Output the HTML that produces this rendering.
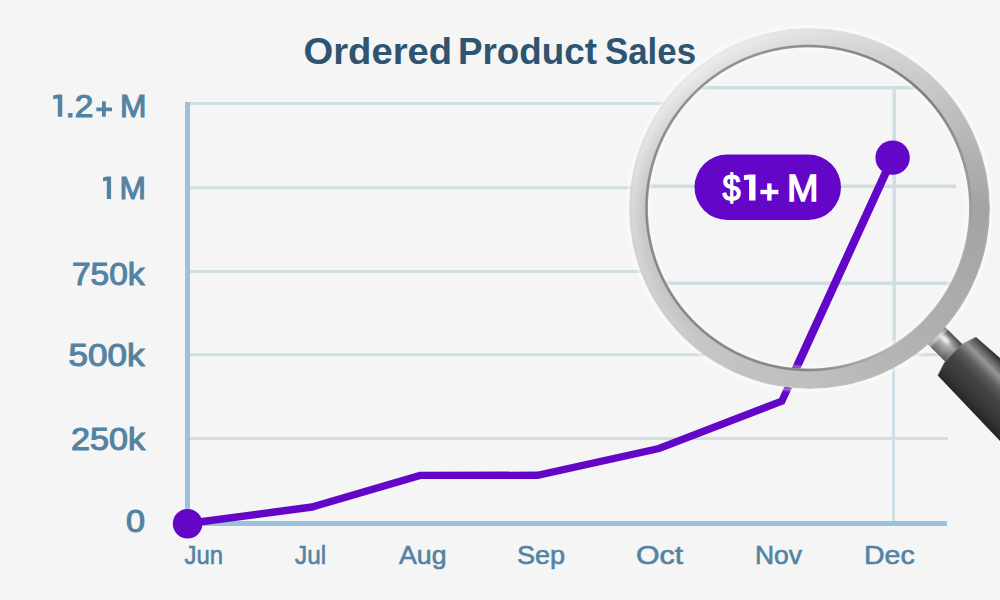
<!DOCTYPE html>
<html><head><meta charset="utf-8">
<style>
html,body{margin:0;padding:0;background:#f5f5f5;width:1000px;height:600px;overflow:hidden;position:relative}
svg{display:block;position:absolute;left:0;top:0}
text{font-family:"Liberation Sans",sans-serif}
.ring{position:absolute;left:628.8px;top:28px;width:361.4px;height:361.4px;border-radius:50%;
background:conic-gradient(from 0deg,#dcdcdc 0deg,#c8c8c8 45deg,#a3a3a3 90deg,#afafaf 135deg,#bfbfbf 180deg,#c5c5c5 225deg,#c8c8c8 270deg,#d8d8d8 300deg,#e0e0e0 320deg,#e0e0e0 340deg,#dcdcdc 360deg);
-webkit-mask:radial-gradient(circle at 179.5px 180px,transparent 160.1px,#000 161.1px);mask:radial-gradient(circle at 179.5px 180px,transparent 160.1px,#000 161.1px)}
.rline{position:absolute;left:628.8px;top:28px;width:361.4px;height:361.4px;border-radius:50%;
background:conic-gradient(from 0deg,rgba(70,70,70,.55) 0deg,rgba(70,70,70,.6) 45deg,rgba(70,70,70,.2) 80deg,rgba(70,70,70,0) 100deg,rgba(70,70,70,0) 150deg,rgba(70,70,70,.5) 180deg,rgba(70,70,70,.55) 270deg,rgba(70,70,70,.55) 360deg);
-webkit-mask:radial-gradient(circle at 179.5px 180px,transparent 160.1px,#000 161.1px,#000 162.6px,transparent 163.8px);mask:radial-gradient(circle at 179.5px 180px,transparent 160.1px,#000 161.1px,#000 162.6px,transparent 163.8px)}
.rhi{position:absolute;left:628.8px;top:28px;width:361.4px;height:361.4px;border-radius:50%;
background:radial-gradient(circle at 180.7px 180.7px,rgba(255,255,255,0) 166px,rgba(255,255,255,.4) 177px,rgba(255,255,255,.15) 180.7px);
-webkit-mask:conic-gradient(from 0deg,rgba(0,0,0,.5) 0deg,rgba(0,0,0,0) 50deg,rgba(0,0,0,0) 200deg,rgba(0,0,0,.9) 280deg,#000 320deg,rgba(0,0,0,.5) 360deg);mask:conic-gradient(from 0deg,rgba(0,0,0,.5) 0deg,rgba(0,0,0,0) 50deg,rgba(0,0,0,0) 200deg,rgba(0,0,0,.9) 280deg,#000 320deg,rgba(0,0,0,.5) 360deg)}
</style></head>
<body>
<svg width="1000" height="600" viewBox="0 0 1000 600">
<defs>
  <clipPath id="lens"><circle cx="808.3" cy="208" r="161.5"/></clipPath>
  <linearGradient id="neckG" gradientUnits="userSpaceOnUse" x1="0" y1="-12.25" x2="0" y2="12.25">
    <stop offset="0" stop-color="#4a4a4a"/>
    <stop offset="0.18" stop-color="#858585"/>
    <stop offset="0.4" stop-color="#bdbdbd"/>
    <stop offset="0.62" stop-color="#a2a2a2"/>
    <stop offset="1" stop-color="#686868"/>
  </linearGradient>
  <linearGradient id="neckU" gradientUnits="userSpaceOnUse" x1="180" y1="0" x2="209" y2="0">
    <stop offset="0" stop-color="#000" stop-opacity="0"/>
    <stop offset="0.5" stop-color="#000" stop-opacity="0"/>
    <stop offset="1" stop-color="#000" stop-opacity="0.3"/>
  </linearGradient>
  <linearGradient id="handG" gradientUnits="userSpaceOnUse" x1="0" y1="-28" x2="0" y2="28">
    <stop offset="0" stop-color="#303030"/>
    <stop offset="0.07" stop-color="#555555"/>
    <stop offset="0.22" stop-color="#969696"/>
    <stop offset="0.38" stop-color="#5e5e5e"/>
    <stop offset="0.55" stop-color="#444444"/>
    <stop offset="0.8" stop-color="#383838"/>
    <stop offset="1" stop-color="#262626"/>
  </linearGradient>
  <filter id="blur2" x="-50%" y="-50%" width="200%" height="200%"><feGaussianBlur stdDeviation="1.6"/></filter>
</defs>
<rect width="1000" height="600" fill="#f5f5f5"/>
<g fill="#2e5470"><text x="303.5" y="63.7" font-size="37.5" font-weight="bold" fill="#2e5470" textLength="148.6" lengthAdjust="spacingAndGlyphs">Ordered</text><text x="458.0" y="63.7" font-size="37.5" font-weight="bold" fill="#2e5470" textLength="139.03" lengthAdjust="spacingAndGlyphs">Product</text><text x="605.0" y="63.7" font-size="37.5" font-weight="bold" fill="#2e5470" textLength="91.05" lengthAdjust="spacingAndGlyphs">Sales</text></g>
<g stroke="#cfdee2" stroke-width="3" fill="none">
<line x1="190" y1="103.5" x2="948" y2="103.5"/><line x1="190" y1="187.7" x2="948" y2="187.7"/><line x1="190" y1="271.6" x2="948" y2="271.6"/><line x1="190" y1="354.8" x2="948" y2="354.8"/><line x1="190" y1="438.4" x2="948" y2="438.4"/>
  <line x1="893.5" y1="103.5" x2="893.5" y2="521"/>
</g>
<rect x="185" y="102" width="5" height="424" fill="#9bc1dc"/>
<rect x="185" y="521" width="762" height="5" fill="#9bc1dc"/>
<g stroke="#5483a2" stroke-width="1.1"><text x="65.5" y="116.5" font-size="30.5" font-weight="normal" fill="#5483a2" textLength="27.86" lengthAdjust="spacingAndGlyphs">.2</text><text x="120.0" y="116.5" font-size="30.5" font-weight="normal" fill="#5483a2" textLength="26.47" lengthAdjust="spacingAndGlyphs">M</text><text x="119.5" y="198.5" font-size="31.0" font-weight="normal" fill="#5483a2" textLength="26.45" lengthAdjust="spacingAndGlyphs">M</text><text x="72.0" y="284.5" font-size="31.5" font-weight="normal" fill="#5483a2" textLength="72.5" lengthAdjust="spacingAndGlyphs">750k</text><text x="68.5" y="366.0" font-size="31.5" font-weight="normal" fill="#5483a2" textLength="76.01" lengthAdjust="spacingAndGlyphs">500k</text><text x="71.0" y="450.1" font-size="31.5" font-weight="normal" fill="#5483a2" textLength="74.01" lengthAdjust="spacingAndGlyphs">250k</text><text x="126.0" y="532.0" font-size="31.0" font-weight="normal" fill="#5483a2" textLength="19.06" lengthAdjust="spacingAndGlyphs">0</text></g>
<g stroke="#5483a2" stroke-width="0.6"><text x="184.5" y="564.3" font-size="26.2" font-weight="normal" fill="#5483a2" textLength="38.56" lengthAdjust="spacingAndGlyphs">Jun</text><text x="295.0" y="564.3" font-size="26.2" font-weight="normal" fill="#5483a2" textLength="31.09" lengthAdjust="spacingAndGlyphs">Jul</text><text x="399.0" y="564.3" font-size="26.2" font-weight="normal" fill="#5483a2" textLength="47.54" lengthAdjust="spacingAndGlyphs">Aug</text><text x="517.0" y="564.3" font-size="26.2" font-weight="normal" fill="#5483a2" textLength="48.09" lengthAdjust="spacingAndGlyphs">Sep</text><text x="636.0" y="564.3" font-size="26.2" font-weight="normal" fill="#5483a2" textLength="47.06" lengthAdjust="spacingAndGlyphs">Oct</text><text x="755.0" y="564.3" font-size="26.2" font-weight="normal" fill="#5483a2" textLength="47.04" lengthAdjust="spacingAndGlyphs">Nov</text><text x="864.0" y="564.3" font-size="26.2" font-weight="normal" fill="#5483a2" textLength="50.7" lengthAdjust="spacingAndGlyphs">Dec</text></g>
<g fill="#5483a2">
<path d="M103,177.6 L106.8,176.4 L111.1,176.4 L111.1,199 L106.8,199 L106.8,180.6 L103,181.6 Z"/>
<path d="M53.2,95.6 L57.8,94.6 L62.3,94.6 L62.3,116.7 L57.8,116.7 L57.8,98.6 L53.2,99.3 Z"/>
<rect x="96.3" y="107.5" width="15.7" height="3.7"/><rect x="102" y="101.3" width="3.8" height="15.4"/>
</g>
<polyline points="187.6,523.5 312,507 420,475.4 537.5,475.3 659,448.5 781.8,401.2 891,163" fill="none" stroke="#6306c8" stroke-width="7.4" stroke-linejoin="miter"/>
<circle cx="187.6" cy="523.7" r="14.8" fill="#6306c8"/>
<g clip-path="url(#lens)">
  <rect x="600" y="0" width="400" height="420" fill="#f5f5f5"/>
  <g stroke="#cfdee2" stroke-width="3.4" fill="none">
<line x1="600" y1="87.8" x2="956" y2="87.8"/><line x1="600" y1="186.3" x2="956" y2="186.3"/><line x1="600" y1="283.3" x2="956" y2="283.3"/><line x1="600" y1="380.5" x2="956" y2="380.5"/>
    <line x1="894.2" y1="87.8" x2="894.2" y2="420"/>
  </g>
  <line x1="767" y1="432" x2="892.6" y2="157.6" stroke="#6306c8" stroke-width="8.2"/>
  <circle cx="892.6" cy="157.6" r="17.2" fill="#6306c8"/>
  <rect x="694.5" y="154.5" width="146.5" height="65.5" rx="32.75" fill="#6306c8"/>
  <g stroke="#ffffff" stroke-width="1.3"><text x="722.5" y="200.55" font-size="36.0" font-weight="normal" fill="#ffffff" textLength="18.07" lengthAdjust="spacingAndGlyphs">$</text><text x="787.0" y="200.55" font-size="36.0" font-weight="normal" fill="#ffffff" textLength="31.52" lengthAdjust="spacingAndGlyphs">M</text></g>
  <g fill="#ffffff"><path d="M743.9,175.2 L749.1,174.4 L755.5,174.4 L755.5,200.6 L749.1,200.6 L749.1,179.6 L743.9,180.2 Z"/>
  <rect x="760.4" y="189.8" width="18" height="4.4"/><rect x="767.2" y="183.4" width="4.4" height="17.2"/></g>
</g>
<g transform="translate(809.5 208.7) rotate(45)">
  <rect x="170" y="-12.25" width="40" height="24.5" fill="url(#neckG)"/>
  <rect x="170" y="-12.25" width="40" height="24.5" fill="url(#neckU)"/>
  <ellipse cx="188" cy="-3.5" rx="6" ry="2.6" fill="#f4f4f4" filter="url(#blur2)"/>
  <path d="M208.5,-26.9 L345,-36.4 L345,30.8 L208.6,27.2 L204.2,13.8 Q202.6,0 204.2,-13.8 Z" fill="url(#handG)"/>
  <path d="M208.6,27.2 L204.2,13.8 Q202.6,0 204.2,-13.8 L208.5,-26.9" fill="none" stroke="#9a9a9a" stroke-opacity="0.3" stroke-width="1.4"/>
</g>
</svg>
<div class="ring"></div>
<div class="rline"></div>
<div class="rhi"></div>
<svg width="1000" height="600" style="position:absolute;left:0;top:0;pointer-events:none">
<defs><filter id="hb" x="-10%" y="-10%" width="120%" height="120%"><feGaussianBlur stdDeviation="0.8"/></filter></defs>
<circle cx="809.5" cy="208.7" r="182" fill="none" stroke="#ffffff" stroke-opacity="0.55" stroke-width="2.5" filter="url(#hb)"/>
<circle cx="808.3" cy="208" r="159.3" fill="none" stroke="#ffffff" stroke-opacity="0.5" stroke-width="2" filter="url(#hb)"/>
</svg>
</body></html>
